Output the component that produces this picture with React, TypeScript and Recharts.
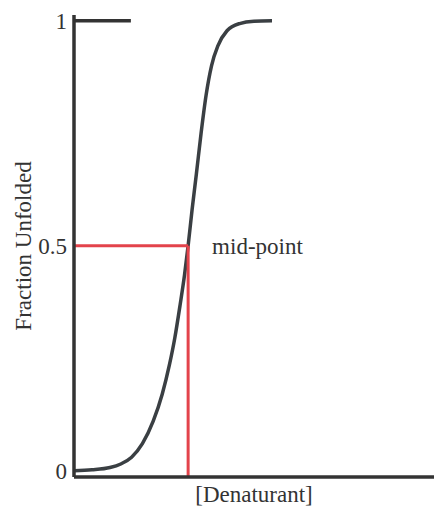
import { LineChart, Line, XAxis, YAxis, ReferenceLine, ReferenceDot } from "recharts";

// denaturant concentration (arbitrary units) and fraction unfolded
const denaturant = [0, 0.5, 1.0, 1.3, 1.6, 1.9, 2.2, 2.45, 2.65, 2.8, 2.95, 3.07, 3.17, 3.28, 3.4, 3.53, 3.67, 3.82, 4.0, 4.25, 4.6, 5.0, 5.5];
const fraction = [0.0, 0.002, 0.007, 0.015, 0.03, 0.06, 0.11, 0.17, 0.235, 0.295, 0.37, 0.435, 0.5, 0.58, 0.66, 0.75, 0.835, 0.9, 0.945, 0.978, 0.994, 0.999, 1.0];

const yTicks = [0, 0.5, 1];
const midX = 3.17;
const midY = 0.5;
const topLineEnd = 1.58;

const xDomain = [0, 10];
const yDomain = [-0.014, 1.013];

const data = denaturant.map((x, i) => ({ x, y: fraction[i] }));

const font = "'Liberation Serif', 'Times New Roman', serif";
const fontSize = 23;
const axisColor = "#333333";
const curveColor = "#3a3f43";
const red = "#e3434b";

const YLabel = (props: any) => {
  const { x, y, height } = props.viewBox;
  const cx = x + 23;
  const cy = y + height / 2;
  return (
    <text
      x={cx}
      y={cy}
      transform={`rotate(-90 ${cx} ${cy})`}
      textAnchor="middle"
      dominantBaseline="central"
      fontFamily={font}
      fontSize={fontSize}
      fill="#333"
    >
      Fraction Unfolded
    </text>
  );
};

export default function App() {
  return (
    <div style={{ position: "absolute", left: 0, top: 0, background: "#fff" }}>
      <LineChart
        width={434}
        height={506}
        data={data}
        margin={{ top: 15, right: 0, bottom: 0, left: 0 }}
      >
        <XAxis
          type="number"
          dataKey="x"
          domain={xDomain}
          allowDataOverflow
          height={29}
          tick={false}
          tickLine={false}
          axisLine={{ stroke: axisColor, strokeWidth: 3.5 }}
          label={{
            value: "[Denaturant]",
            position: "insideBottom",
            offset: 4,
            fontFamily: font,
            fontSize,
            fill: "#333",
          }}
        />
        <YAxis
          type="number"
          domain={yDomain}
          allowDataOverflow
          ticks={yTicks}
          width={74}
          tickLine={false}
          tickSize={0}
          tickMargin={7}
          tick={{ fontFamily: font, fontSize, fill: "#333" }}
          axisLine={{ stroke: axisColor, strokeWidth: 3.5 }}
          label={{ content: YLabel }}
        />
        <ReferenceLine
          segment={[{ x: 0, y: 1 }, { x: topLineEnd, y: 1 }]}
          stroke={axisColor}
          strokeWidth={3.5}
        />
        <Line
          type="monotone"
          dataKey="y"
          stroke={curveColor}
          strokeWidth={3.5}
          dot={false}
          isAnimationActive={false}
        />
        <ReferenceLine
          segment={[{ x: 0, y: midY }, { x: midX, y: midY }]}
          stroke={red}
          strokeWidth={3}
        />
        <ReferenceLine
          segment={[{ x: midX, y: midY }, { x: midX, y: yDomain[0] }]}
          stroke={red}
          strokeWidth={3}
        />
        <ReferenceDot
          x={midX}
          y={midY}
          r={1}
          fill="none"
          stroke="none"
          label={{
            value: "mid-point",
            position: "right",
            offset: 23,
            fontFamily: font,
            fontSize,
            fill: "#333",
          }}
        />
      </LineChart>
    </div>
  );
}
